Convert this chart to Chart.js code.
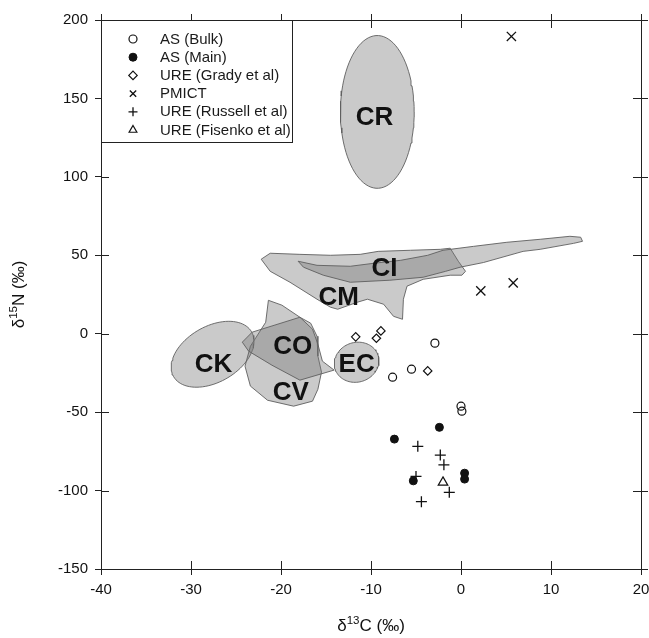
<!DOCTYPE html>
<html>
<head>
<meta charset="utf-8">
<script src="https://cdn.jsdelivr.net/npm/chart.js@4.4.0/dist/chart.umd.min.js"></script>
<style>
  html, body { margin: 0; padding: 0; background: #fff; }
</style>
</head>
<body>
<canvas id="chart" width="649" height="638"></canvas>
<script>
'use strict'

const FONT = '"Liberation Sans", Arial, sans-serif'

// axis ticks
const xTicks = [-40, -30, -20, -10, 0, 10, 20]
const yTicks = [-150, -100, -50, 0, 50, 100, 150, 200]

// AS (Bulk)
const bulkX = [-2.9, -5.5, -7.6, 0.0, 0.1]
const bulkY = [-6.0, -22.6, -27.7, -46.2, -49.4]
// AS (Main)
const mainX = [-2.4, -7.4, -5.3, 0.4, 0.4]
const mainY = [-59.7, -67.2, -93.8, -88.9, -92.7]
// URE (Grady et al)
const gradyX = [-11.7, -9.4, -8.9, -3.7]
const gradyY = [-2.0, -2.9, 1.8, -23.7]
// PMICT
const pmictX = [2.2, 5.8, 5.6]
const pmictY = [27.3, 32.4, 189.5]
// URE (Russell et al)
const russellX = [-4.8, -2.3, -1.9, -5.0, -1.3, -4.4]
const russellY = [-71.8, -77.4, -83.6, -91.0, -101.1, -107.1]
// URE (Fisenko et al)
const fisenkoX = [-2.0]
const fisenkoY = [-94.8]

// chondrite fields drawn as ellipses: centre + two conjugate semi-axes (dx, dy)
const ellipseNames = ['CR', 'CK', 'EC']
const ellipseCX = [-9.3, -27.6, -11.6]
const ellipseCY = [141.4, -13.1, -18.2]
const ellipseA = [[4.1, 0], [4.33, 14.3], [2.44, 3.2]]
const ellipseB = [[0, 48.7], [1.56, -15.4], [0.44, -12.4]]

// chondrite fields drawn as outlines
const cmOutline = [[-22.2, 47.5], [-21.2, 51.3], [-17.9, 50.6], [-14.5, 50.0], [-11.2, 50.6], [-9.2, 52.5],
  [-5.6, 53.2], [-2.3, 53.8], [-1.2, 54.5], [-0.3, 46.2], [0.5, 39.8], [0.1, 37.3], [-1.2, 37.3],
  [-4.2, 34.7], [-6.0, 30.3], [-6.4, 22.0], [-6.5, 9.2], [-7.5, 11.1], [-8.6, 18.8], [-10.4, 22.0],
  [-11.5, 20.1], [-13.7, 15.6], [-14.5, 16.9], [-16.0, 22.0], [-19.0, 32.8], [-21.2, 39.8]]
const ciOutline = [[-18.1, 46.2], [-16.0, 43.6], [-12.3, 43.0], [-9.7, 44.9], [-6.7, 46.8], [-3.7, 50.0],
  [-2.0, 53.2], [1.4, 55.7], [5.1, 58.3], [8.8, 60.2], [12.1, 62.1], [13.3, 61.5], [13.5, 58.9],
  [12.5, 57.6], [8.8, 53.8], [6.9, 52.5], [2.5, 45.4], [-0.1, 42.4], [-1.7, 39.8], [-4.2, 36.0],
  [-7.9, 34.1], [-12.3, 32.8], [-15.3, 37.3], [-17.5, 42.4]]
const coOutline = [[-24.3, -5.4], [-23.2, 1.0], [-17.9, 10.5], [-16.5, 2.9], [-15.9, -6.7], [-15.4, -17.5],
  [-14.1, -23.2], [-17.9, -29.6], [-21.0, -20.1], [-23.6, -11.1]]
const cvOutline = [[-21.4, 21.3], [-19.9, 18.2], [-17.9, 10.5], [-16.7, 6.7], [-16.0, -1.6], [-15.9, -14.3],
  [-15.5, -24.5], [-15.9, -35.4], [-16.5, -43.0], [-18.6, -46.2], [-21.5, -42.4], [-23.4, -33.4],
  [-24.0, -20.7], [-23.4, -8.0], [-21.7, 7.3]]

// field names
const regionLabels = ['CR', 'CI', 'CM', 'CK', 'CO', 'CV', 'EC']
const regionLabelX = [-9.6, -8.5, -13.6, -27.5, -18.7, -18.9, -11.6]
const regionLabelY = [139.3, 42.5, 24.3, -18.3, -7.2, -36.4, -18.3]

const shapeFill = 'rgba(115,115,115,0.38)'
const shapeLine = 'rgba(95,95,95,0.9)'

function toPoints(xs, ys) {
    return xs.map((x, i) => ({x: x, y: ys[i]}))
}

function outlinePoints(list) {
    let pts = list.map(p => ({x: p[0], y: p[1]}))
    pts.push({x: list[0][0], y: list[0][1]})
    return pts
}

function ellipsePoints(i) {
    let pts = []
    for (let k = 0; k <= 90; k++) {
        let t = k / 90 * Math.PI * 2
        pts.push({
            x: ellipseCX[i] + ellipseA[i][0] * Math.cos(t) + ellipseB[i][0] * Math.sin(t),
            y: ellipseCY[i] + ellipseA[i][1] * Math.cos(t) + ellipseB[i][1] * Math.sin(t)
        })
    }
    return pts
}

function marker(label, data, style, radius, filled, width) {
    return {
        type: 'scatter',
        label: label,
        data: data,
        pointStyle: style,
        pointRadius: radius,
        pointHoverRadius: radius,
        pointBorderWidth: width,
        pointBorderColor: '#111',
        pointBackgroundColor: filled ? '#111' : 'rgba(0,0,0,0)',
        borderColor: '#111',
        backgroundColor: filled ? '#111' : 'rgba(0,0,0,0)'
    }
}

function field(name, data) {
    return {
        type: 'line',
        label: name,
        isField: true,
        data: data,
        fill: 'shape',
        backgroundColor: shapeFill,
        borderColor: shapeLine,
        borderWidth: 1,
        pointRadius: 0,
        tension: 0
    }
}

let datasets = [
    marker('AS (Bulk)', toPoints(bulkX, bulkY), 'circle', 4, false, 1.2),
    marker('AS (Main)', toPoints(mainX, mainY), 'circle', 4, true, 1),
    marker('URE (Grady et al)', toPoints(gradyX, gradyY), 'rectRot', 4.2, false, 1.2),
    marker('PMICT', toPoints(pmictX, pmictY), 'crossRot', 6.5, false, 1.3),
    marker('URE (Russell et al)', toPoints(russellX, russellY), 'cross', 5.5, false, 1.3),
    marker('URE (Fisenko et al)', toPoints(fisenkoX, fisenkoY), 'triangle', 5.5, false, 1.2),
    field('CR', ellipsePoints(0)),
    field('CI', outlinePoints(ciOutline)),
    field('CM', outlinePoints(cmOutline)),
    field('CO', outlinePoints(coOutline)),
    field('CV', outlinePoints(cvOutline)),
    field('CK', ellipsePoints(1)),
    field('EC', ellipsePoints(2))
]

// text with a raised, smaller part: [text, isSup]
function drawRich(ctx, parts, size, x, y, align) {
    let widths = parts.map(p => {
        ctx.font = (p[1] ? size * 0.68 : size) + 'px ' + FONT
        return ctx.measureText(p[0]).width
    })
    let total = widths.reduce((a, b) => a + b, 0)
    let cx = align === 'center' ? x - total / 2 : x
    parts.forEach((p, i) => {
        ctx.font = (p[1] ? size * 0.68 : size) + 'px ' + FONT
        ctx.fillText(p[0], cx, p[1] ? y - size * 0.4 : y)
        cx += widths[i]
    })
}

const decorPlugin = {
    id: 'decor',
    afterDatasetsDraw(chart) {
        const {ctx, scales: {x, y}} = chart
        ctx.save()
        ctx.fillStyle = '#111'
        ctx.font = 'bold 26px ' + FONT
        ctx.textAlign = 'center'
        ctx.textBaseline = 'alphabetic'
        regionLabels.forEach((name, i) => {
            ctx.fillText(name, x.getPixelForValue(regionLabelX[i]), y.getPixelForValue(regionLabelY[i]) + 9.3)
        })
        ctx.restore()
    },
    afterDraw(chart) {
        const {ctx, chartArea: a, scales: {x, y}} = chart
        ctx.save()
        ctx.strokeStyle = '#222'
        ctx.lineWidth = 1
        ctx.strokeRect(Math.round(a.left) + 0.5, Math.round(a.top) + 0.5,
            Math.round(a.right - a.left), Math.round(a.bottom - a.top))
        ctx.beginPath()
        xTicks.forEach(v => {
            let px = Math.round(x.getPixelForValue(v)) + 0.5
            ctx.moveTo(px, a.bottom - 8); ctx.lineTo(px, a.bottom)
            ctx.moveTo(px, a.top - 6); ctx.lineTo(px, a.top + 8)
        })
        yTicks.forEach(v => {
            let py = Math.round(y.getPixelForValue(v)) + 0.5
            ctx.moveTo(a.left, py); ctx.lineTo(a.left + 8, py)
            ctx.moveTo(a.right - 8, py); ctx.lineTo(a.right + 7, py)
        })
        ctx.stroke()

        // legend box in the upper left corner
        let markers = chart.data.datasets.filter(d => !d.isField)
        let boxR = 292, boxB = 142
        ctx.fillStyle = '#fff'
        ctx.fillRect(a.left + 1, a.top + 1, boxR - a.left - 1, boxB - a.top - 1)
        ctx.strokeRect(Math.round(a.left) + 0.5, Math.round(a.top) + 0.5, boxR - Math.round(a.left), boxB - Math.round(a.top))
        markers.forEach((d, i) => {
            let ry = 39 + i * 18.2
            ctx.fillStyle = d.pointBackgroundColor
            ctx.strokeStyle = d.pointBorderColor
            ctx.lineWidth = d.pointBorderWidth
            Chart.helpers.drawPoint(ctx, {
                pointStyle: d.pointStyle,
                radius: Math.min(d.pointRadius, 4.5),
                borderWidth: d.pointBorderWidth,
                rotation: 0
            }, 133, ry)
            ctx.fillStyle = '#1a1a1a'
            ctx.font = '15px ' + FONT
            ctx.textAlign = 'left'
            ctx.textBaseline = 'middle'
            ctx.fillText(d.label, 160, ry + 0.5)
        })

        // axis titles
        ctx.fillStyle = '#111'
        ctx.textBaseline = 'alphabetic'
        ctx.textAlign = 'left'
        drawRich(ctx, [['δ', false], ['13', true], ['C (‰)', false]], 17, (a.left + a.right) / 2, 631, 'center')
        ctx.translate(24, (a.top + a.bottom) / 2)
        ctx.rotate(-Math.PI / 2)
        drawRich(ctx, [['δ', false], ['15', true], ['N (‰)', false]], 17, 0, 0, 'center')
        ctx.restore()
    }
}

const CHART = document.querySelector('#chart').getContext('2d')

new Chart(CHART, {
    type: 'scatter',
    data: {datasets: datasets},
    options: {
        responsive: false,
        animation: false,
        devicePixelRatio: 1,
        layout: {padding: {left: 0, right: 8, top: 20, bottom: 0}},
        plugins: {
            legend: {display: false},
            tooltip: {enabled: false}
        },
        scales: {
            x: {
                type: 'linear',
                min: -40,
                max: 20,
                afterBuildTicks: s => { s.ticks = xTicks.map(v => ({value: v})) },
                afterFit: s => { s.height = 69; s.paddingLeft = 0; s.paddingRight = 0 },
                ticks: {color: '#111', font: {family: FONT, size: 15}, padding: 6, maxRotation: 0},
                grid: {drawOnChartArea: false, drawTicks: true, tickLength: 6, color: '#222'},
                border: {color: '#222'}
            },
            y: {
                type: 'linear',
                min: -150,
                max: 200,
                afterBuildTicks: s => { s.ticks = yTicks.map(v => ({value: v})) },
                afterFit: s => { s.width = 101; s.paddingTop = 0; s.paddingBottom = 0 },
                ticks: {color: '#111', font: {family: FONT, size: 15}, padding: 7},
                grid: {drawOnChartArea: false, drawTicks: true, tickLength: 6, color: '#222'},
                border: {color: '#222'}
            }
        }
    },
    plugins: [decorPlugin]
})
</script>
</body>
</html>
